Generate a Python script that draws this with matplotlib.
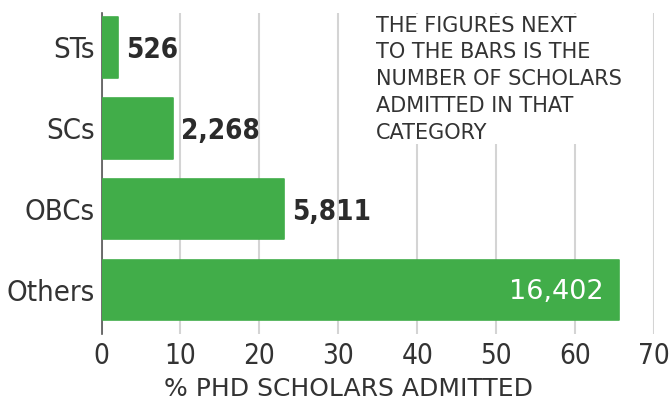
import matplotlib.pyplot as plt

categories = ['STs', 'SCs', 'OBCs', 'Others']
share_pct = [2.1, 9.1, 23.1, 65.6]
counts = [526, 2268, 5811, 16402]
xticks = [0, 10, 20, 30, 40, 50, 60, 70]

plt.rcParams['font.family'] = ['DejaVu Sans']
plt.rcParams['font.stretch'] = 'condensed'

green = '#41ad49'
txt = '#2b2b2b'

fig = plt.figure(figsize=(6.71, 4.03), dpi=100)
ax = fig.add_axes([0.1513, 0.171, 0.8234, 0.797])

y = list(range(len(categories)))
bars = ax.barh(y, share_pct, height=0.75, color=green, edgecolor=green,
               linewidth=1.2, joinstyle='round', zorder=3)

for i, (v, n) in enumerate(zip(share_pct, counts)):
    label = f'{n:,}'
    if v > 50:
        # big bar: number goes inside, in white
        ax.text(v - 2.0, i + 0.03, label, ha='right', va='center',
                color='white', fontsize=19.5, fontstretch='normal', zorder=4)
    else:
        ax.text(v + 1.0, i + 0.03, label, ha='left', va='center',
                color=txt, fontsize=20, fontweight='bold', zorder=4)

ax.set_xlim(0, 70)
ax.set_ylim(3.545, -0.427)
ax.set_yticks(y)
ax.set_yticklabels(categories, fontsize=21, color='#333333')
ax.set_xticks(xticks)
ax.set_xticklabels([str(t) for t in xticks], fontsize=20, color='#333333')
ax.tick_params(axis='y', length=0, pad=5)
ax.tick_params(axis='x', length=0, pad=6)
ax.xaxis.grid(True, color='#d4d4d4', linewidth=1.5, zorder=0)
ax.set_axisbelow(True)
for s in ['top', 'right', 'bottom']:
    ax.spines[s].set_visible(False)
ax.spines['left'].set_color('#555555')
ax.spines['left'].set_linewidth(1.2)

fig.text(349 / 671, 1 - 396 / 403, '% PHD SCHOLARS ADMITTED', ha='center',
         va='baseline', fontsize=18, fontstretch='normal', color='#333333')

fig.text(0.560, 0.961,
         'THE FIGURES NEXT\nTO THE BARS IS THE\nNUMBER OF SCHOLARS\nADMITTED IN THAT\nCATEGORY',
         ha='left', va='top', fontsize=15, fontstretch='normal', color='#333333',
         linespacing=1.42,
         bbox=dict(facecolor='white', edgecolor='none', pad=1), zorder=5)

fig.savefig('out.png', dpi=100)
